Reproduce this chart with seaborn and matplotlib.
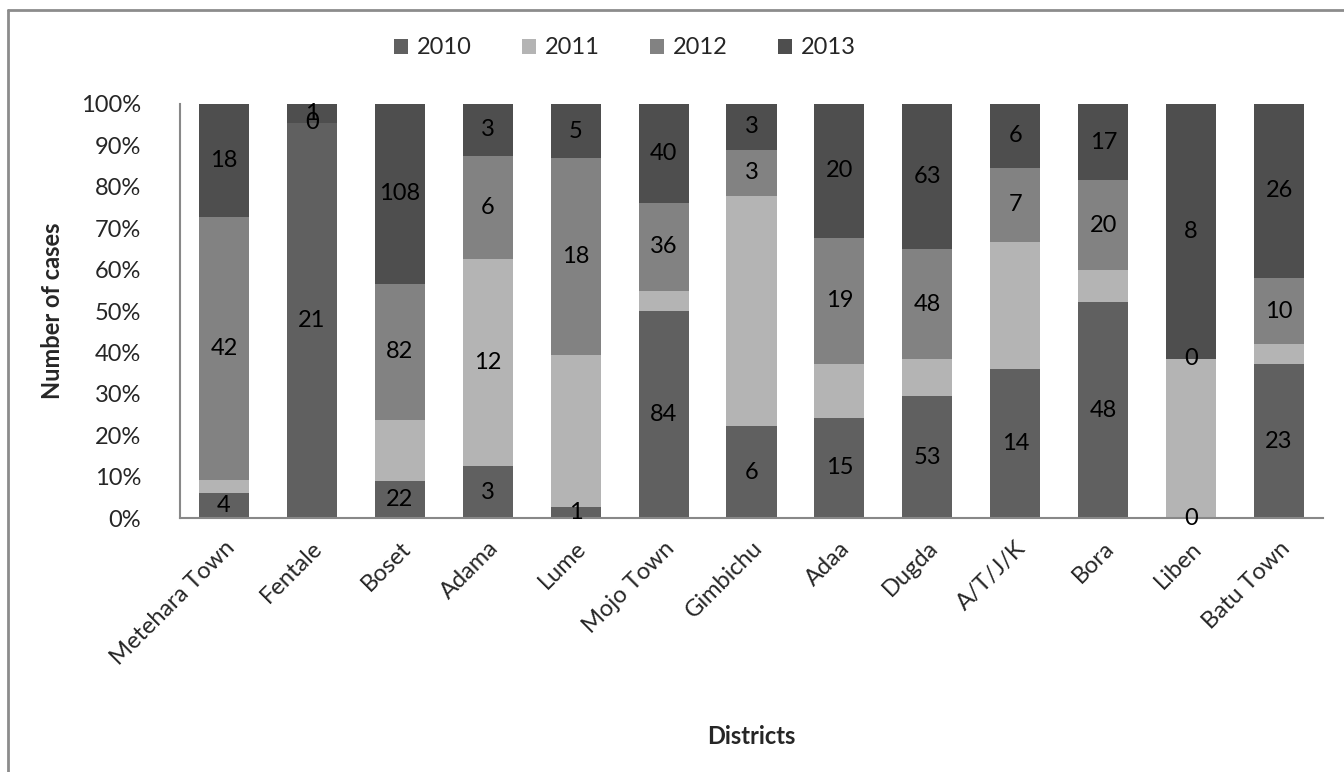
import matplotlib
matplotlib.use("Agg")
import matplotlib.pyplot as plt
from matplotlib.lines import Line2D
from matplotlib.patches import Patch
import numpy as np
import pandas as pd
import seaborn as sns

districts = ["Metehara Town", "Fentale", "Boset", "Adama", "Lume", "Mojo Town",
             "Gimbichu", "Adaa", "Dugda", "A/T/J/K", "Bora", "Liben", "Batu Town"]
cases_2010 = [4, 21, 22, 3, 1, 84, 6, 15, 53, 14, 48, 0, 23]
cases_2011 = [2, 0, 37, 12, 14, 8, 15, 8, 16, 12, 7, 5, 3]
cases_2012 = [42, 0, 82, 6, 18, 36, 3, 19, 48, 7, 20, 0, 10]
cases_2013 = [18, 1, 108, 3, 5, 40, 3, 20, 63, 6, 17, 8, 26]
years = ["2010", "2011", "2012", "2013"]
# 2011 counts are printed only where the segment carries a label
labelled_2011 = ["Adama"]

colors = {"2010": "#606060", "2011": "#b4b4b4", "2012": "#828282", "2013": "#4e4e4e"}

sns.set_theme(style="white")
plt.rcParams["font.family"] = ["Lato", "DejaVu Sans"]

FS = 17

df = pd.DataFrame({"district": districts, "2010": cases_2010, "2011": cases_2011,
                   "2012": cases_2012, "2013": cases_2013})
total = df[years].sum(axis=1)
pct = df[years].div(total, axis=0) * 100
cum = pct.cumsum(axis=1)

fig = plt.figure(figsize=(13.44, 7.72), dpi=100)
ax = fig.add_axes([0.1339, 0.329, 0.8505, 0.5363])

bar_w = 0.57
# draw cumulative layers from the top down so each shorter bar covers the one behind
for yr in reversed(years):
    sns.barplot(x=df["district"], y=cum[yr], color=colors[yr], width=bar_w,
                saturation=1, ax=ax, linewidth=0, order=districts)

# value labels at the middle of each segment
for i, d in enumerate(districts):
    for yr in years:
        if yr == "2011" and d not in labelled_2011:
            continue
        top = cum.loc[i, yr]
        h = pct.loc[i, yr]
        ax.text(i, top - h / 2, str(df.loc[i, yr]), ha="center", va="center",
                fontsize=FS, color="black")

ax.set_xlim(-0.5, len(districts) - 0.5)
ax.set_ylim(0, 100)
ax.set_yticks(np.arange(0, 101, 10))
ax.set_yticklabels([f"{v}%" for v in range(0, 101, 10)], fontsize=FS)
ax.set_xticks(range(len(districts)))
ax.set_xticklabels(districts, rotation=45, ha="right", rotation_mode="anchor", fontsize=FS)
ax.tick_params(axis="y", length=0, pad=28)
ax.tick_params(axis="x", length=0, pad=14)

for side in ["top", "right"]:
    ax.spines[side].set_visible(False)
for side in ["left", "bottom"]:
    ax.spines[side].set_color("#888888")
    ax.spines[side].set_linewidth(1.5)

ax.set_ylabel("Number of cases", fontsize=FS, fontweight="bold", labelpad=12)
ax.set_xlabel("Districts", fontsize=FS, fontweight="bold", labelpad=0)
ax.xaxis.set_label_coords(0.5, -0.50)

handles = [Patch(facecolor=colors[y], edgecolor="none", label=y) for y in years]
fig.legend(handles=handles, loc="center", bbox_to_anchor=(0.465, 0.938), ncol=4,
           frameon=False, fontsize=FS, handlelength=0.6, handleheight=0.6,
           handletextpad=0.4, columnspacing=2.1)

# chart frame along the top and left edges
fig.add_artist(Line2D([8 / 1344, 8 / 1344], [0, 1 - 10 / 772], transform=fig.transFigure,
                      color="#8c8c8c", linewidth=2))
fig.add_artist(Line2D([8 / 1344, 1], [1 - 10 / 772, 1 - 10 / 772], transform=fig.transFigure,
                      color="#8c8c8c", linewidth=2))

fig.savefig("out.png", dpi=100, facecolor="white")
